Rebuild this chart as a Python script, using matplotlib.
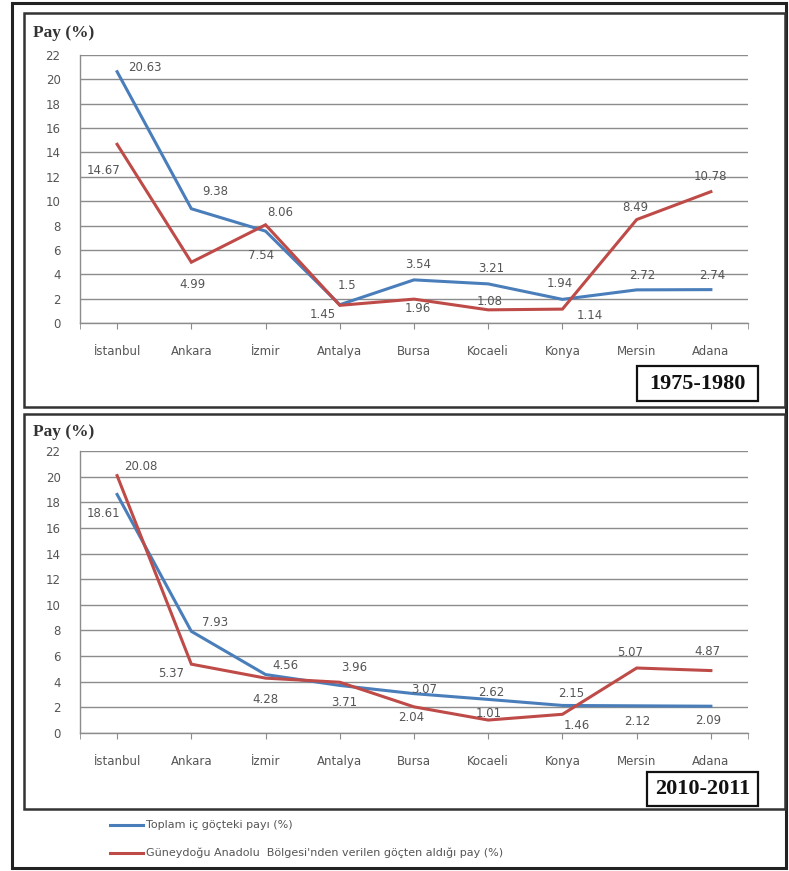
import matplotlib
matplotlib.use("Agg")
import matplotlib.pyplot as plt
from matplotlib.patches import Rectangle
from matplotlib.lines import Line2D

cities = ["İstanbul", "Ankara", "İzmir", "Antalya", "Bursa", "Kocaeli", "Konya", "Mersin", "Adana"]

total_1975 = [20.63, 9.38, 7.54, 1.5, 3.54, 3.21, 1.94, 2.72, 2.74]
gda_1975 = [14.67, 4.99, 8.06, 1.45, 1.96, 1.08, 1.14, 8.49, 10.78]

total_2010 = [18.61, 7.93, 4.56, 3.71, 3.07, 2.62, 2.15, 2.12, 2.09]
gda_2010 = [20.08, 5.37, 4.28, 3.96, 2.04, 1.01, 1.46, 5.07, 4.87]

yticks = list(range(0, 23, 2))
series_labels = ["Toplam iç göçteki payı (%)",
                 "Güneydoğu Anadolu  Bölgesi'nden verilen göçten aldığı pay (%)"]
periods = ["1975-1980", "2010-2011"]

# label offsets in pixels (dx, dy) relative to the data point
off_total_1975 = [(28, 4), (24, 17), (-4, -24), (7, 19), (4, 15), (3, 15), (-3, 16), (6, 14), (1, 14)]
off_gda_1975 = [(-14, -26), (1, -22), (15, 12), (-17, -9), (4, -9), (1, 8), (27, -6), (-1, 12), (0, 15)]
off_total_2010 = [(-14, -19), (24, 9), (20, 9), (4, -17), (10, 4), (3, 7), (9, 12), (1, -16), (-3, -14)]
off_gda_2010 = [(24, 9), (-20, -9), (0, -21), (14, 15), (-3, -11), (1, 7), (14, -11), (-7, 16), (-3, 19)]

W, H = 789, 871
fig = plt.figure(figsize=(W / 100, H / 100), dpi=100)

def fx(x):
    return x / W

def fy(y):
    return 1 - y / H

blue = "#4A7EBB"
red = "#BE4B48"
grid_c = "#8C8C8C"
txt_c = "#555555"

# frames
fig.patches.append(Rectangle((fx(12), fy(868)), fx(786) - fx(12), fy(3) - fy(868),
                             transform=fig.transFigure, fill=False, lw=2.2, ec="#222222"))
for (t, b) in [(13, 407), (414, 809)]:
    fig.patches.append(Rectangle((fx(24), fy(b)), fx(785) - fx(24), fy(t) - fy(b),
                                 transform=fig.transFigure, fill=False, lw=1.8, ec="#333333"))

panels = [
    (55, 323, total_1975, gda_1975, off_total_1975, off_gda_1975, periods[0], (637, 366, 758, 401), 33),
    (451, 733, total_2010, gda_2010, off_total_2010, off_gda_2010, periods[1], (647, 772, 758, 806), 432),
]

x = list(range(len(cities)))
for (top, bot, tot, gda, otot, ogda, per, box, pay_y) in panels:
    ax = fig.add_axes([fx(80), fy(bot), fx(748) - fx(80), fy(top) - fy(bot)])
    ax.set_xlim(-0.5, len(cities) - 0.5)
    ax.set_ylim(0, 22)
    ax.set_yticks(yticks)
    ax.set_yticklabels([str(v) for v in yticks])
    ax.set_xticks(x)
    ax.set_xticklabels(cities)
    ax.set_xticks([-0.5, len(cities) - 0.5], minor=True)
    ax.yaxis.grid(True, color=grid_c, lw=1.0)
    ax.set_axisbelow(True)
    for s in ["top", "right"]:
        ax.spines[s].set_visible(False)
    for s in ["left", "bottom"]:
        ax.spines[s].set_color(grid_c)
        ax.spines[s].set_linewidth(1.0)
    ax.tick_params(axis="y", length=0, pad=14, labelsize=8.5, labelcolor=txt_c)
    ax.tick_params(axis="x", which="both", length=4, direction="out", color=grid_c,
                   pad=12, labelsize=8.5, labelcolor=txt_c)
    ax.plot(x, tot, color=blue, lw=2.2, solid_joinstyle="miter", zorder=3)
    ax.plot(x, gda, color=red, lw=2.2, solid_joinstyle="miter", zorder=4)
    for xi, v, (dx, dy) in zip(x, tot, otot):
        ax.annotate(f"{v:g}", (xi, v), xytext=(dx * 0.72, dy * 0.72), textcoords="offset points",
                    ha="center", va="center", fontsize=8.5, color=txt_c, zorder=5)
    for xi, v, (dx, dy) in zip(x, gda, ogda):
        ax.annotate(f"{v:g}", (xi, v), xytext=(dx * 0.72, dy * 0.72), textcoords="offset points",
                    ha="center", va="center", fontsize=8.5, color=txt_c, zorder=5)
    fig.text(fx(33), fy(pay_y), "Pay (%)", fontsize=12.5, fontweight="bold",
             family="Liberation Serif", color="#333333", ha="left", va="center")
    x0, y0, x1, y1 = box
    fig.patches.append(Rectangle((fx(x0), fy(y1)), fx(x1) - fx(x0), fy(y0) - fy(y1),
                                 transform=fig.transFigure, fill=True, fc="white", lw=1.6, ec="#111111"))
    fig.text(fx((x0 + x1) / 2), fy((y0 + y1) / 2), per, fontsize=16, fontweight="bold",
             family="Liberation Serif", color="#111111", ha="center", va="center")

# legend
for yy, col, lab in [(825, blue, series_labels[0]), (853, red, series_labels[1])]:
    fig.lines.append(Line2D([fx(110), fx(143)], [fy(yy), fy(yy)], transform=fig.transFigure,
                            color=col, lw=2.2))
    fig.text(fx(146), fy(yy), lab, fontsize=8, color=txt_c, ha="left", va="center")

fig.savefig("out.png", dpi=100)
